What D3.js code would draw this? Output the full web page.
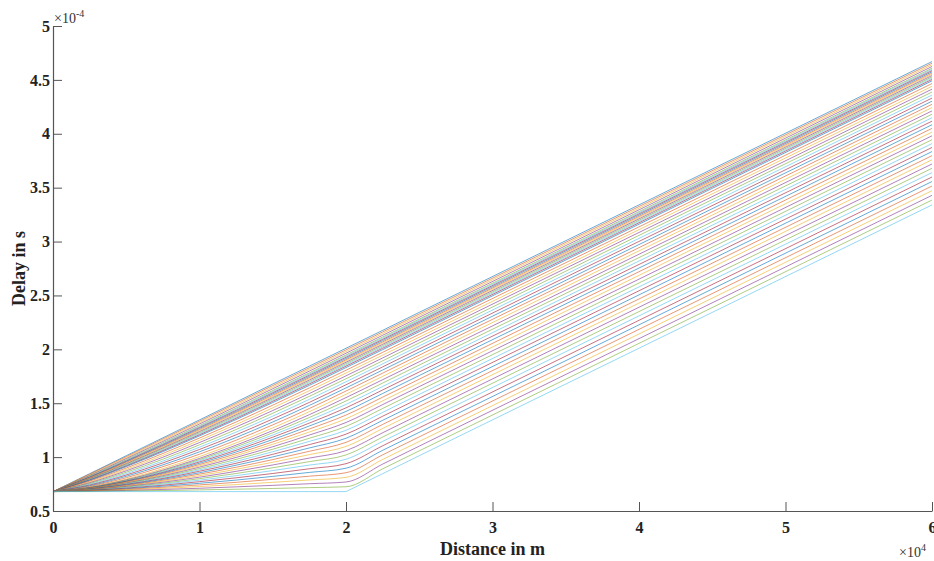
<!DOCTYPE html>
<html>
<head>
<meta charset="utf-8">
<script src="https://cdn.jsdelivr.net/npm/d3@7/dist/d3.min.js"></script>
<style>
  html, body { margin: 0; padding: 0; background: #fff; }
  svg { display: block; }
  .tick text { font-family: "Liberation Serif", "Times New Roman", serif; font-weight: bold; font-size: 16px; fill: #222; }
</style>
</head>
<body>
<svg id="chart" width="934" height="561"></svg>
<script>
// Distance samples (×1e4 m)
const distance = [0, 0.25, 0.5, 0.75, 1, 1.25, 1.5, 1.75, 2, 2.25, 2.5, 6];
// Delay curves (×1e-4 s), top curve first, bottom curve last
const delaySeries = [
  [0.68, 0.846, 1.013, 1.179, 1.345, 1.511, 1.678, 1.844, 2.010, 2.176, 2.343, 4.670],
  [0.68, 0.841, 1.004, 1.168, 1.333, 1.498, 1.664, 1.829, 1.995, 2.161, 2.328, 4.655],
  [0.68, 0.835, 0.995, 1.157, 1.320, 1.484, 1.649, 1.814, 1.980, 2.146, 2.313, 4.640],
  [0.68, 0.829, 0.986, 1.145, 1.307, 1.470, 1.634, 1.798, 1.964, 2.130, 2.297, 4.624],
  [0.68, 0.823, 0.976, 1.133, 1.293, 1.455, 1.618, 1.782, 1.948, 2.114, 2.281, 4.608],
  [0.68, 0.819, 0.970, 1.125, 1.284, 1.445, 1.608, 1.771, 1.937, 2.103, 2.270, 4.597],
  [0.68, 0.815, 0.964, 1.117, 1.275, 1.434, 1.597, 1.760, 1.926, 2.092, 2.259, 4.586],
  [0.68, 0.811, 0.958, 1.109, 1.266, 1.424, 1.586, 1.749, 1.915, 2.081, 2.248, 4.575],
  [0.68, 0.807, 0.951, 1.101, 1.256, 1.414, 1.574, 1.738, 1.903, 2.069, 2.236, 4.563],
  [0.68, 0.804, 0.945, 1.093, 1.247, 1.404, 1.563, 1.727, 1.892, 2.058, 2.225, 4.552],
  [0.68, 0.800, 0.938, 1.085, 1.237, 1.393, 1.552, 1.715, 1.880, 2.046, 2.213, 4.540],
  [0.68, 0.796, 0.932, 1.077, 1.227, 1.382, 1.541, 1.703, 1.868, 2.034, 2.201, 4.528],
  [0.68, 0.792, 0.925, 1.068, 1.217, 1.371, 1.529, 1.691, 1.856, 2.022, 2.189, 4.516],
  [0.68, 0.788, 0.919, 1.060, 1.207, 1.360, 1.518, 1.679, 1.844, 2.010, 2.177, 4.504],
  [0.68, 0.784, 0.912, 1.051, 1.197, 1.349, 1.506, 1.666, 1.831, 1.997, 2.164, 4.491],
  [0.68, 0.777, 0.899, 1.034, 1.177, 1.326, 1.482, 1.642, 1.806, 1.972, 2.139, 4.466],
  [0.68, 0.769, 0.886, 1.016, 1.156, 1.303, 1.457, 1.616, 1.780, 1.946, 2.113, 4.440],
  [0.68, 0.762, 0.873, 0.999, 1.135, 1.280, 1.432, 1.590, 1.754, 1.920, 2.087, 4.414],
  [0.68, 0.755, 0.860, 0.981, 1.114, 1.256, 1.407, 1.564, 1.727, 1.893, 2.060, 4.387],
  [0.68, 0.748, 0.847, 0.963, 1.092, 1.232, 1.380, 1.536, 1.699, 1.865, 2.032, 4.359],
  [0.68, 0.741, 0.834, 0.946, 1.071, 1.207, 1.354, 1.508, 1.671, 1.837, 2.004, 4.331],
  [0.68, 0.734, 0.822, 0.928, 1.049, 1.182, 1.326, 1.480, 1.642, 1.808, 1.975, 4.302],
  [0.68, 0.728, 0.809, 0.911, 1.027, 1.157, 1.299, 1.451, 1.613, 1.779, 1.946, 4.273],
  [0.68, 0.722, 0.797, 0.893, 1.005, 1.132, 1.271, 1.422, 1.583, 1.749, 1.916, 4.243],
  [0.68, 0.719, 0.789, 0.880, 0.988, 1.111, 1.246, 1.394, 1.552, 1.718, 1.885, 4.212],
  [0.68, 0.717, 0.785, 0.873, 0.977, 1.096, 1.226, 1.368, 1.521, 1.687, 1.854, 4.181],
  [0.68, 0.716, 0.781, 0.866, 0.966, 1.080, 1.205, 1.342, 1.489, 1.655, 1.822, 4.149],
  [0.68, 0.714, 0.777, 0.858, 0.955, 1.064, 1.185, 1.316, 1.457, 1.623, 1.790, 4.117],
  [0.68, 0.713, 0.773, 0.851, 0.943, 1.048, 1.163, 1.289, 1.424, 1.590, 1.757, 4.084],
  [0.68, 0.711, 0.769, 0.843, 0.931, 1.031, 1.141, 1.261, 1.390, 1.556, 1.723, 4.050],
  [0.68, 0.710, 0.765, 0.835, 0.919, 1.014, 1.119, 1.233, 1.356, 1.522, 1.689, 4.016],
  [0.68, 0.708, 0.760, 0.827, 0.907, 0.997, 1.096, 1.205, 1.321, 1.487, 1.654, 3.981],
  [0.68, 0.707, 0.756, 0.819, 0.894, 0.979, 1.073, 1.175, 1.285, 1.451, 1.618, 3.945],
  [0.68, 0.705, 0.751, 0.811, 0.881, 0.961, 1.050, 1.146, 1.249, 1.415, 1.582, 3.909],
  [0.68, 0.704, 0.747, 0.802, 0.869, 0.943, 1.026, 1.116, 1.213, 1.379, 1.546, 3.873],
  [0.68, 0.702, 0.742, 0.794, 0.855, 0.925, 1.002, 1.085, 1.175, 1.341, 1.508, 3.835],
  [0.68, 0.700, 0.737, 0.785, 0.842, 0.906, 0.977, 1.054, 1.137, 1.303, 1.470, 3.797],
  [0.68, 0.699, 0.732, 0.776, 0.828, 0.887, 0.952, 1.023, 1.099, 1.265, 1.432, 3.759],
  [0.68, 0.697, 0.728, 0.767, 0.814, 0.868, 0.927, 0.991, 1.060, 1.226, 1.393, 3.720],
  [0.68, 0.695, 0.723, 0.758, 0.800, 0.848, 0.901, 0.958, 1.020, 1.186, 1.353, 3.680],
  [0.68, 0.693, 0.718, 0.749, 0.786, 0.828, 0.875, 0.926, 0.980, 1.146, 1.313, 3.640],
  [0.68, 0.691, 0.712, 0.739, 0.772, 0.808, 0.848, 0.892, 0.939, 1.105, 1.272, 3.599],
  [0.68, 0.690, 0.707, 0.730, 0.757, 0.787, 0.821, 0.858, 0.897, 1.063, 1.230, 3.557],
  [0.68, 0.688, 0.702, 0.720, 0.742, 0.766, 0.794, 0.823, 0.855, 1.021, 1.188, 3.515],
  [0.68, 0.686, 0.697, 0.710, 0.727, 0.745, 0.766, 0.788, 0.812, 0.978, 1.145, 3.472],
  [0.68, 0.684, 0.691, 0.700, 0.711, 0.724, 0.738, 0.753, 0.769, 0.935, 1.102, 3.429],
  [0.68, 0.682, 0.686, 0.690, 0.696, 0.702, 0.709, 0.717, 0.725, 0.891, 1.058, 3.385],
  [0.68, 0.680, 0.680, 0.680, 0.680, 0.680, 0.680, 0.680, 0.680, 0.846, 1.013, 3.340]
];
const xTicks = [0, 1, 2, 3, 4, 5, 6];
const yTicks = [0.5, 1, 1.5, 2, 2.5, 3, 3.5, 4, 4.5, 5];
const lineColors = ["#0072BD", "#D95319", "#EDB120", "#7E2F8E", "#77AC30", "#4DBEEE", "#A2142F"];
const xLabel = "Distance in m";
const yLabel = "Delay in s";

const svg = d3.select("#chart");
const margin = { left: 53, right: 2, top: 26, bottom: 50 };
const W = 934, H = 561;

const x = d3.scaleLinear().domain([0, 6]).range([margin.left, W - margin.right]);
const y = d3.scaleLinear().domain([0.5, 5]).range([H - margin.bottom, margin.top]);

const serif = '"Liberation Serif", "Times New Roman", serif';

// Lines: smooth (monotone) over the curved part, straight once the slope is constant
const gLines = svg.append("g");
const knee = distance.indexOf(2);
delaySeries.forEach((row, i) => {
  const pts = row.map((v, j) => [distance[j], v]);
  const flat = row.slice(0, knee + 1).every(v => v === row[0]);
  const curved = d3.line().x(d => x(d[0])).y(d => y(d[1]))
    .curve(flat ? d3.curveLinear : d3.curveMonotoneX)(pts.slice(0, knee + 3));
  const straight = d3.line().x(d => x(d[0])).y(d => y(d[1]))
    .curve(d3.curveLinear)(pts.slice(knee + 2));
  gLines.append("path")
    .attr("d", curved + straight.replace(/^M/, "L"))
    .attr("fill", "none")
    .attr("stroke", lineColors[i % lineColors.length])
    .attr("stroke-width", 1)
    .attr("stroke-opacity", 0.6)
    .attr("stroke-linejoin", "round");
});

// Axes
const xAxis = d3.axisBottom(x).tickValues(xTicks).tickFormat(d3.format("d"))
  .tickSizeInner(-9).tickSizeOuter(0).tickPadding(11);
const yAxis = d3.axisLeft(y).tickValues(yTicks).tickFormat(d => String(d))
  .tickSizeInner(-9).tickSizeOuter(0).tickPadding(3);

const gx = svg.append("g").attr("transform", `translate(0,${H - margin.bottom})`).call(xAxis);
const gy = svg.append("g").attr("transform", `translate(${margin.left},0)`).call(yAxis);
[gx, gy].forEach(g => {
  g.select(".domain").attr("stroke", "#555").attr("stroke-width", 1.2);
  g.selectAll(".tick line").attr("stroke", "#555");
});

// Axis labels
svg.append("text")
  .attr("x", (x(0) + x(6)) / 2).attr("y", 555)
  .attr("text-anchor", "middle")
  .attr("font-family", serif).attr("font-weight", "bold").attr("font-size", 18).attr("fill", "#222")
  .text(xLabel);

svg.append("text")
  .attr("transform", `translate(25,${(y(0.5) + y(5)) / 2}) rotate(-90)`)
  .attr("text-anchor", "middle")
  .attr("font-family", serif).attr("font-weight", "bold").attr("font-size", 18).attr("fill", "#222")
  .text(yLabel);

// Exponent multipliers
const ex = svg.append("text")
  .attr("x", 926).attr("y", 557).attr("text-anchor", "end")
  .attr("font-family", serif).attr("font-size", 14).attr("fill", "#333");
ex.append("tspan").text("×10");
ex.append("tspan").attr("dy", -6).attr("font-size", 10).text("4");

const ey = svg.append("text")
  .attr("x", 54).attr("y", 23)
  .attr("font-family", serif).attr("font-size", 14).attr("fill", "#333");
ey.append("tspan").text("×10");
ey.append("tspan").attr("dy", -6).attr("font-size", 10).text("-4");
</script>
</body>
</html>
